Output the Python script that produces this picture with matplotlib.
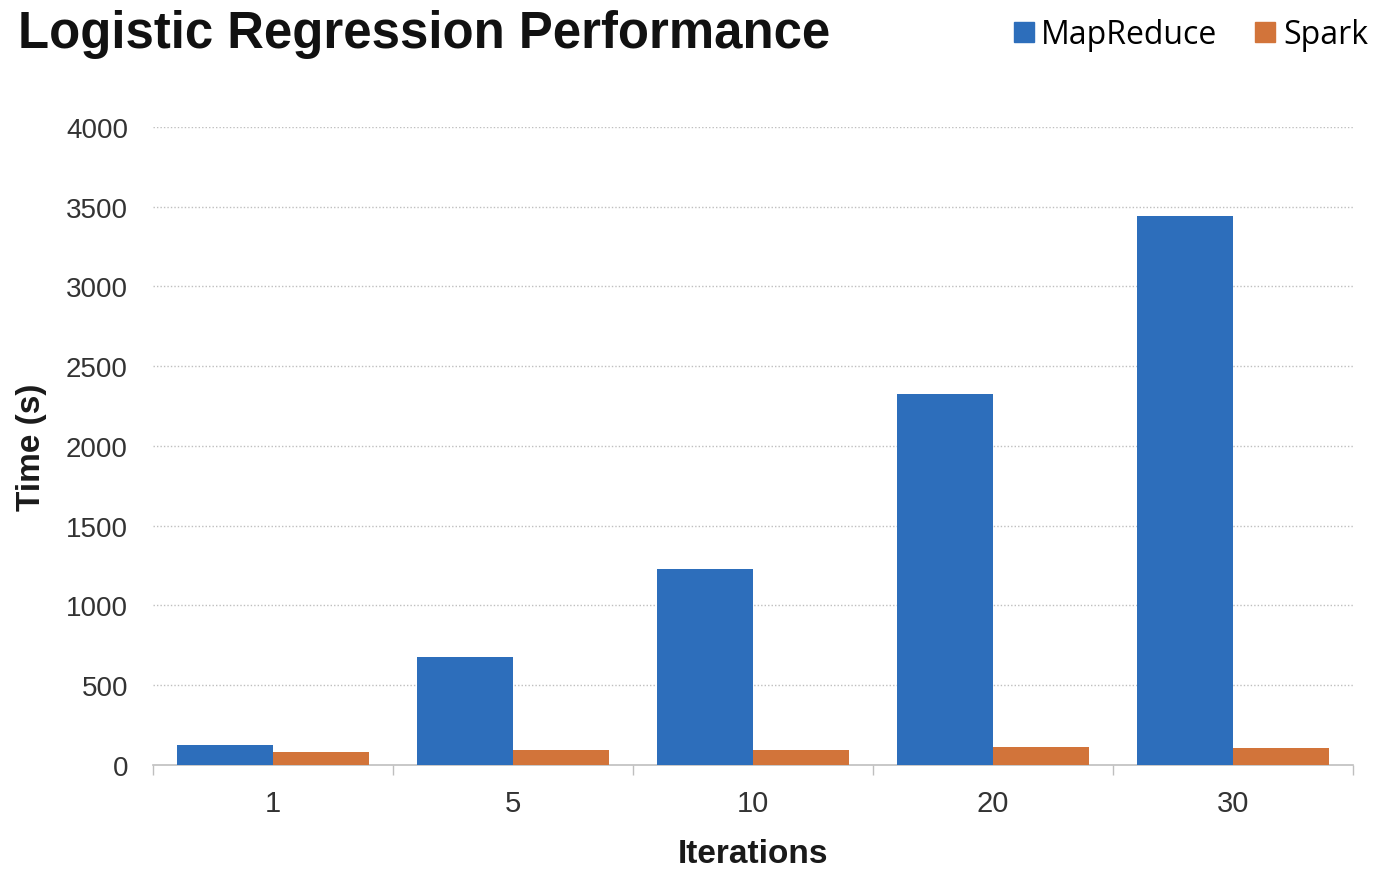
import matplotlib
matplotlib.use("Agg")
import matplotlib.pyplot as plt
from matplotlib.lines import Line2D
import numpy as np

iterations = ["1", "5", "10", "20", "30"]
mapreduce_time = [128, 676, 1229, 2326, 3441]
spark_time = [82, 94, 96, 110, 107]

blue = "#2D6EBB"
orange = "#D2743A"

plt.rcParams["font.family"] = ["Liberation Sans", "DejaVu Sans"]

fig = plt.figure(figsize=(13.78, 8.7), dpi=100)
ax = fig.add_axes([0.111, 0.1195, 0.871, 0.7335])

x = np.arange(len(iterations))
w = 0.4
ax.bar(x - w / 2, mapreduce_time, width=w, color=blue, zorder=3)
ax.bar(x + w / 2, spark_time, width=w, color=orange, zorder=3)

ax.set_xlim(-0.5, len(iterations) - 0.5)
ax.set_ylim(0, 4000)
ax.set_yticks(np.arange(0, 4001, 500))
ax.set_xticks(x)
ax.set_xticklabels(iterations)
ax.set_xticks(np.arange(-0.5, len(iterations), 1), minor=True)

ax.tick_params(axis="y", length=0, pad=18, labelsize=20, labelcolor="#333333")
ax.tick_params(axis="x", which="major", length=0, pad=17, labelsize=21,
               labelcolor="#333333")
ax.tick_params(axis="x", which="minor", length=7, color="#BFBFBF", width=1)

for spine in ["top", "right", "left"]:
    ax.spines[spine].set_visible(False)
ax.spines["bottom"].set_color("#BFBFBF")
ax.spines["bottom"].set_linewidth(1.2)

ax.yaxis.grid(True, linestyle=(0, (1, 1.5)), color="#BFBFBF", linewidth=1)
for gl in ax.get_ygridlines()[:1]:
    gl.set_visible(False)
ax.set_axisbelow(True)

ax.set_ylabel("Time (s)", fontsize=24, fontweight="bold", color="#1a1a1a")
ax.yaxis.set_label_coords(-0.088, 0.5)
ax.set_xlabel("Iterations", fontsize=24, fontweight="bold", color="#1a1a1a")
ax.xaxis.set_label_coords(0.5, -0.115)

fig.text(0.013, 0.945, "Logistic Regression Performance", fontsize=36.6,
         fontweight="bold", color="#111111", ha="left", va="baseline")

handles = [
    Line2D([], [], marker="s", linestyle="none", markersize=14, color=blue),
    Line2D([], [], marker="s", linestyle="none", markersize=14, color=orange),
]
fig.legend(handles, ["MapReduce", "Spark"], loc="upper right",
           bbox_to_anchor=(1.009, 1.004), ncol=2, frameon=False,
           prop={"family": "Open Sans", "size": 23}, handletextpad=0.15,
           columnspacing=1.1, handlelength=0.8, borderaxespad=0.3)

fig.savefig("out.png", dpi=100)
